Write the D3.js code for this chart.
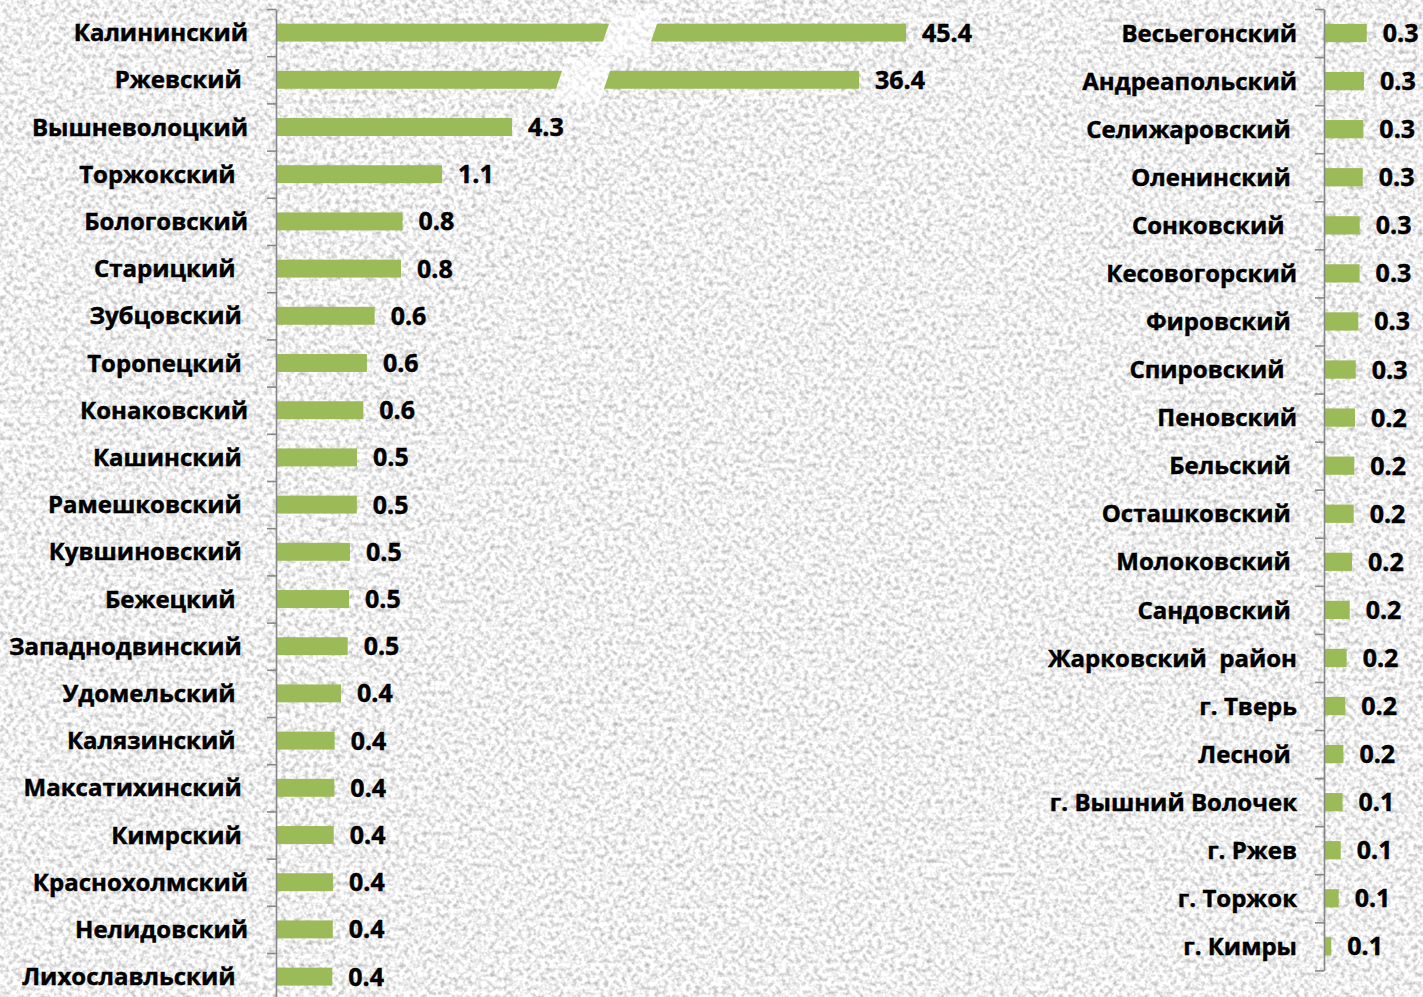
<!DOCTYPE html>
<html>
<head>
<meta charset="utf-8">
<script src="https://cdn.jsdelivr.net/npm/d3@7"></script>
<style>
  html, body { margin: 0; padding: 0; background: #e6e6e6; }
  svg { display: block; }
  text { font-family: "Open Sans", "Noto Sans", sans-serif; font-weight: 700; fill: #000; white-space: pre;
         stroke: #000; stroke-width: 0.45px; }
</style>
</head>
<body>
<div id="chart"></div>
<script>
// ---------- DATA ----------
const leftCategories = [
  "Калининский", "Ржевский ", "Вышневолоцкий", "Торжокский  ", "Бологовский",
  "Старицкий  ", "Зубцовский ", "Торопецкий ", "Конаковский", "Кашинский ",
  "Рамешковский ", "Кувшиновский ", "Бежецкий  ", "Западнодвинский ", "Удомельский  ",
  "Калязинский  ", "Максатихинский ", "Кимрский ", "Краснохолмский", "Нелидовский",
  "Лихославльский  "
];
const leftValues = [
  45.4, 36.4, 4.3, 1.065, 0.81,
  0.80, 0.63, 0.58, 0.557, 0.516,
  0.515, 0.471, 0.465, 0.456, 0.413,
  0.372, 0.370, 0.366, 0.361, 0.360,
  0.357
];
const rightCategories = [
  "Весьегонский", "Андреапольский", "Селижаровский ", "Оленинский ", "Сонковский  ",
  "Кесовогорский", "Фировский ", "Спировский  ", "Пеновский", "Бельский ",
  "Осташковский ", "Молоковский ", "Сандовский ", "Жарковский  район", "г. Тверь",
  "Лесной ", "г. Вышний Волочек", "г. Ржев", "г. Торжок", "г. Кимры"
];
const rightValues = [
  0.345, 0.322, 0.317, 0.312, 0.287,
  0.286, 0.275, 0.254, 0.248, 0.242,
  0.237, 0.223, 0.204, 0.179, 0.168,
  0.152, 0.145, 0.130, 0.113, 0.052
];
// broken-axis breakpoints for the left panel (values)
const leftBreakDomain = [0, 1.2, 4.3, 36.4, 45.4];
const brokenBars = [0, 1]; // indices of bars drawn with a break

// ---------- SETUP ----------
const W = 1423, H = 997;
const barColor = "#9BBB59";
const axisColor = "#878787";
const fmt = d3.format(".1f");

const svg = d3.select("#chart").append("svg").attr("width", W).attr("height", H);
const defs = svg.append("defs");

function noiseFilter(id, offset, contrast, masked) {
  const f = defs.append("filter").attr("id", id)
    .attr("filterUnits", "userSpaceOnUse")
    .attr("x", 0).attr("y", 0).attr("width", W).attr("height", H)
    .attr("color-interpolation-filters", "sRGB");
  f.append("feTurbulence").attr("type", "fractalNoise").attr("baseFrequency", 0.22)
    .attr("numOctaves", 2).attr("seed", 7).attr("result", "t");
  const c = `${contrast} 0 0 0 ${offset}`;
  f.append("feColorMatrix").attr("in", "t").attr("type", "matrix")
    .attr("values", `${c}  ${c}  ${c}  0 0 0 0 1`).attr("result", "n");
  if (masked) f.append("feComposite").attr("in", "n").attr("in2", "SourceGraphic").attr("operator", "in");
}
noiseFilter("noise", 0.64, 0.6, false);
noiseFilter("noiseLight", 0.78, 0.4, true);

svg.append("rect").attr("width", W).attr("height", H).attr("fill", "#fff").attr("filter", "url(#noise)");

function panel(opts) {
  const { cats, vals, x, axisX, top, step, labelEnd, broken } = opts;
  const n = cats.length;
  const y = d3.scaleBand().domain(d3.range(n)).range([top, top + n * step])
    .paddingInner(0.62).paddingOuter(0.31);
  const yIdx = d3.scaleLinear().domain([0, n]).range([top, top + n * step]);
  const g = svg.append("g");

  // bars
  g.selectAll("rect.bar").data(vals).join("rect").attr("class", "bar")
    .attr("x", x(0)).attr("y", (d, i) => y(i))
    .attr("width", d => x(d) - x(0)).attr("height", y.bandwidth())
    .attr("fill", barColor);

  // break marks
  if (broken) {
    const s = 0.34, half = 24;
    g.selectAll("polygon.brk").data(broken).join("polygon").attr("class", "brk")
      .attr("points", i => {
        const cx = x(vals[i]) - 276;
        const t = yIdx(i) + 1, b = yIdx(i + 1) - 1, cy = y(i) + y.bandwidth() / 2;
        return [[cx - half + s * (cy - t), t], [cx + half + s * (cy - t), t],
                [cx + half - s * (b - cy), b], [cx - half - s * (b - cy), b]].join(" ");
      })
      .attr("fill", "#fff").attr("filter", "url(#noiseLight)");
  }

  // axis
  const ax = d3.axisLeft(yIdx).tickValues(d3.range(n + 1)).tickSize(9).tickSizeOuter(0).tickFormat("");
  const axg = svg.append("g").attr("transform", `translate(${axisX},0)`).call(ax);
  axg.selectAll("path, line").attr("stroke", axisColor).attr("stroke-width", 1.6);

  // category labels
  g.selectAll("text.cat").data(cats).join("text").attr("class", "cat")
    .attr("x", labelEnd).attr("y", (d, i) => y(i) + y.bandwidth() / 2)
    .attr("dy", "0.36em").attr("text-anchor", "end")
    .attr("font-size", 24).text(d => d);

  // value labels
  g.selectAll("text.val").data(vals).join("text").attr("class", "val")
    .attr("x", d => x(d) + 16).attr("y", (d, i) => y(i) + y.bandwidth() / 2)
    .attr("dy", "0.36em").attr("font-size", 25).text(d => fmt(d));
}

const xLeft = d3.scaleLinear().domain(leftBreakDomain).range([277, 463, 512, 859, 906]);
const xRight = d3.scaleLinear().domain([0, 1]).range([1325, 1325 + 121]);

panel({ cats: leftCategories, vals: leftValues, x: xLeft, axisX: 276, top: 9, step: 47.2, labelEnd: 248, broken: brokenBars });
panel({ cats: rightCategories, vals: rightValues, x: xRight, axisX: 1324, top: 9, step: 48.07, labelEnd: 1297, broken: null });
</script>
</body>
</html>
